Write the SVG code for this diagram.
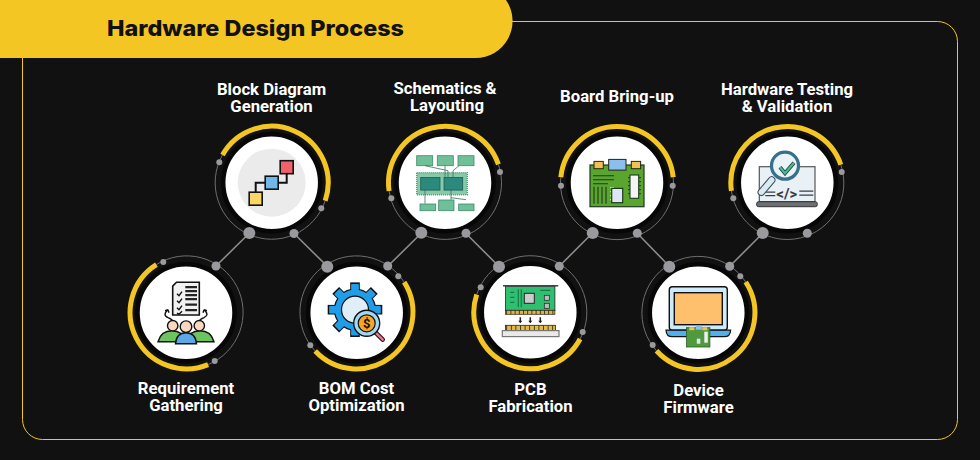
<svg xmlns="http://www.w3.org/2000/svg" width="980" height="460" viewBox="0 0 980 460">
<style>
.lbl{font-family:Roboto,"Liberation Sans",sans-serif;font-weight:700;font-size:16.7px;fill:#fff;text-anchor:middle}
.ttl{font-family:Inter,"Liberation Sans",sans-serif;font-weight:800;font-size:22px;fill:#111}
.y{fill:none;stroke:#f4c623;stroke-width:5}
.t{fill:none;stroke:#6f6f6f;stroke-width:1}
.w{fill:#fff;stroke:#070707;stroke-width:4.500}
.d{fill:#9a9a9e}
.c{stroke:#8c8c8c;stroke-width:1.6;fill:none}
.k{stroke:#111;stroke-width:1.4}
.kl{stroke:#111;stroke-width:1.4;fill:none}
.g{fill:#6fbf98;stroke:#3d8a6c;stroke-width:.8}
.gl{stroke:#3a6e60;stroke-width:.8;fill:none}
</style>
<defs>
<g id="tooth"><rect x="-4" y="-26.500" width="8" height="53"/><rect x="-4" y="-26.500" width="8" height="53" transform="rotate(45)"/><rect x="-4" y="-26.500" width="8" height="53" transform="rotate(90)"/><rect x="-4" y="-26.500" width="8" height="53" transform="rotate(135)"/></g>
</defs>
<rect width="980" height="460" fill="#111"/>
<rect x="22.500" y="21.500" width="935" height="418" rx="20" fill="none" stroke="#f4c623" stroke-width="1"/>
<path d="M0 0H506A37 37 0 0 1 475 58H0Z" fill="#f4c623"/>
<text class="ttl" x="107" y="35.500" textLength="297" lengthAdjust="spacingAndGlyphs">Hardware Design Process</text>

<g id="connectors">
<path class="c" d="M216 266L249.500 233M294 233.500L327.500 266.500M388 266L421.500 233M466 233.500L499 266.500M559.500 266L592.500 233M637.500 233.500L669.500 266.500M730 266L763 233"/>
</g>

<g id="node-requirement">
<circle class="w" cx="186" cy="312.700" r="48.500"/>
<path class="t" d="M156.400 264.600A56.500 56.500 0 1 1 208.100 364.600"/>
<path class="y" d="M156.400 264.600A56.500 56.500 0 0 0 208.100 364.600"/>
<circle class="d" cx="216" cy="266" r="4.500"/><circle class="d" cx="163.300" cy="262" r="3"/><circle class="d" cx="214.700" cy="361" r="3"/>
<g transform="translate(186 312.700)">
<path d="M-9.500-30.400H13.300V2.300H-13.300V-26.500Z" fill="#f2f2f2" stroke="#111" stroke-width="1.600"/>
<path d="M-.7-25.500H11M-.7-21.500H11M-.7-17.500H11M-.7-13.500H11M-.7-8H11M-.7-2.500H11" stroke="#222" stroke-width="2.200" fill="none"/>
<path class="kl" d="M-9-19l2 2 3-4M-9-12l2 2 3-4M-9-5l2 2 3-4M-9 .5l2 1 3-3"/>
<path class="kl" d="M-16 12Q-10 8-18 5Q-24 2-18-3M-18-3l-3 1M-18-3l1 3M16 12Q10 8 18 5Q24 2 18-3M18-3l3 1M18-3l-1 3"/>
<path d="M-28 29Q-25 18-14 18Q-3 18 0 29Z" fill="#6cc45f" class="k"/>
<path d="M28 29Q25 18 14 18Q3 18 0 29Z" fill="#6cc45f" class="k"/>
<circle cx="-13.300" cy="13" r="5.200" fill="#fcd7c0" class="k"/><circle cx="13.300" cy="13" r="5.200" fill="#fcd7c0" class="k"/>
<path d="M-10.500 31Q-9.500 20 0 20Q9.500 20 10.500 31Z" fill="#5aa9e6" class="k"/>
<circle cx="0" cy="14" r="5.800" fill="#fcd7c0" class="k"/>
</g>
</g>

<g id="node-block-diagram">
<circle class="w" cx="271.700" cy="182.700" r="48.500"/>
<path class="t" d="M325.200 200.800A56.500 56.500 0 1 1 222.500 154.900"/>
<path class="y" d="M222.500 154.900A56.500 56.500 0 0 1 325.200 200.800"/>
<circle class="d" cx="249.300" cy="233" r="6"/><circle class="d" cx="294" cy="233.500" r="4.500"/><circle class="d" cx="219.300" cy="162.300" r="3"/><circle class="d" cx="321.300" cy="208.300" r="3"/>
<g transform="translate(271.700 182.700)">
<circle r="34" fill="#ebebeb"/>
<path d="M-16 16V0H0M0 0H15V-15" fill="none" stroke="#111" stroke-width="2"/>
<rect x="8.500" y="-22" width="13" height="13" fill="#f0616d" stroke="#111" stroke-width="1.600"/>
<rect x="-6.500" y="-6.500" width="13" height="13" fill="#6fb9e8" stroke="#111" stroke-width="1.600"/>
<rect x="-22.500" y="9.500" width="13" height="13" fill="#fbd566" stroke="#111" stroke-width="1.600"/>
</g>
</g>

<g id="node-bom">
<circle class="w" cx="356.700" cy="312.700" r="48.500"/>
<path class="t" d="M315.200 351A56.500 56.500 0 1 1 404.200 282.200"/>
<path class="y" d="M404.200 282.200A56.500 56.500 0 0 1 315.200 351"/>
<circle class="d" cx="327.300" cy="266.700" r="6"/><circle class="d" cx="387.700" cy="266" r="4.500"/><circle class="d" cx="398.300" cy="276.300" r="3"/><circle class="d" cx="310.300" cy="345.300" r="3"/>
<g transform="translate(356.700 312.700)">
<g transform="translate(-1.700 -3)">
<use href="#tooth" fill="#1f9de8" stroke="#111" stroke-width="1.600"/>
<circle r="20.500" fill="#1f9de8" stroke="#111" stroke-width="1.200"/>
<g transform="scale(.96)"><use href="#tooth" fill="#1f9de8"/></g>
<circle r="13.500" fill="#dfeef8" stroke="#111" stroke-width="1.200"/>
</g>
<path d="M19 20L26 27" stroke="#111" stroke-width="4.500" stroke-linecap="round"/>
<path d="M19 20L26 27" stroke="#e5788a" stroke-width="2.500" stroke-linecap="round"/>
<circle cx="10" cy="10.600" r="13" fill="#9fd8f5" stroke="#111" stroke-width="1.400"/>
<circle cx="10" cy="10.600" r="8.500" fill="#f6a623" stroke="#111" stroke-width="1.200"/>
<text x="10" y="15.400" font-family="Roboto,sans-serif" font-weight="700" font-size="13" text-anchor="middle" fill="#111">$</text>
</g>
</g>

<g id="node-schematics">
<circle class="w" cx="445" cy="182.700" r="48.500"/>
<path class="t" d="M498.400 164.400A56.500 56.500 0 1 1 389.100 191"/>
<path class="y" d="M389.100 191A56.500 56.500 0 0 1 498.400 164.400"/>
<circle class="d" cx="421.300" cy="232.700" r="6"/><circle class="d" cx="466" cy="233.300" r="4.500"/><circle class="d" cx="391.300" cy="198.300" r="3"/><circle class="d" cx="500" cy="172" r="3"/>
<g transform="translate(445 182.700)">
<rect x="-28.300" y="-27" width="16" height="10" class="g"/><rect x="-7.700" y="-27" width="16" height="10" class="g"/><rect x="13" y="-27" width="16" height="10" class="g"/>
<rect x="-28.300" y="-10" width="50.600" height="22" fill="#86cba8" stroke="#4f9c7c" stroke-width="1.500" stroke-dasharray="1 1"/>
<rect x="-24.300" y="-5.300" width="19.300" height="12.700" fill="#2b8a7d" stroke="#1d5d55" stroke-width=".8"/>
<rect x="-1" y="-5.300" width="18.700" height="12.700" fill="#2b8a7d" stroke="#1d5d55" stroke-width=".8"/>
<path class="gl" d="M-20-17L3-12V-5M0-17V-5M14-17L8-12V-5M-20 7V21M6 7V17M6 15L21 17"/>
<rect x="-25" y="21.300" width="15.700" height="6.700" class="g"/><rect x="-6.300" y="17.300" width="15.300" height="10.700" class="g"/><rect x="13.700" y="21.300" width="15.300" height="6.700" class="g"/>
</g>
</g>

<g id="node-pcb">
<circle class="w" cx="530.300" cy="312.300" r="48.500"/>
<path class="t" d="M476.700 294.500A56.500 56.500 0 1 1 580.100 339"/>
<path class="y" d="M476.700 294.500A56.500 56.500 0 0 0 580.100 339"/>
<circle class="d" cx="499" cy="266.700" r="6"/><circle class="d" cx="559.300" cy="266.300" r="4.500"/><circle class="d" cx="480.700" cy="287.300" r="3"/><circle class="d" cx="582.700" cy="332" r="3"/>
<g transform="translate(530.300 312.300)">
<rect x="-24.700" y="-26" width="49.300" height="24" fill="#2fbf71" stroke="#222" stroke-width=".8"/>
<path d="M-27.300-26.500H28" stroke="#444" stroke-width="1.400"/>
<path d="M-12-23V-5M-9-23V-5M-20-20H-16M-20-15H-16M-20-10H-16M10-22H20" stroke="#1a7a4a" stroke-width="1.200" fill="none"/>
<rect x="-6" y="-19" width="10" height="10" fill="#ccc" stroke="#222" stroke-width="1"/>
<rect x="14" y="-17" width="5" height="5" fill="#bbb" stroke="#222" stroke-width=".7"/><rect x="14" y="-9" width="5" height="5" fill="#bbb" stroke="#222" stroke-width=".7"/>
<rect x="-24.700" y="-2" width="49.300" height="4" fill="#e3b23c" stroke="#222" stroke-width=".7"/>
<path d="M-24 0H24" stroke="#222" stroke-width="4" stroke-dasharray=".8 3.400"/>
<path d="M-10 5V10M0 5V10M10 5V10" stroke="#222" stroke-width="1.500"/>
<path d="M-12 8.500L-10 11L-8 8.500ZM-2 8.500L0 11L2 8.500ZM8 8.500L10 11L12 8.500Z" fill="#222"/>
<rect x="-24.700" y="13" width="50" height="5.300" fill="#e8b93f" stroke="#222" stroke-width=".8"/>
<path d="M-24 15.700H25" stroke="#222" stroke-width="5" stroke-dasharray=".8 3.800"/>
<rect x="-28" y="18.300" width="56.700" height="6" fill="#e9e9e9" stroke="#777" stroke-width="1.200"/>
</g>
</g>

<g id="node-board">
<circle class="w" cx="617" cy="182.700" r="48.500"/>
<path class="t" d="M673.200 177.300A56.500 56.500 0 1 1 560.800 177.300"/>
<path class="y" d="M560.800 177.300A56.500 56.500 0 0 1 673.200 177.300"/>
<circle class="d" cx="592.700" cy="233" r="6"/><circle class="d" cx="637.300" cy="233.300" r="4.500"/><circle class="d" cx="561" cy="185.700" r="3"/><circle class="d" cx="672.700" cy="185.700" r="3"/>
<g transform="translate(617 182.700)">
<rect x="-27" y="-17.700" width="54" height="41.700" fill="#5aa52e" stroke="#1c3a20" stroke-width="1.200"/>
<rect x="-23" y="-21.300" width="9.300" height="7.300" fill="#f4c050" stroke="#222" stroke-width="1"/>
<rect x="-8.300" y="-23.300" width="17.300" height="10.700" fill="#8cc0ec" stroke="#222" stroke-width="1"/>
<rect x="14.300" y="-21.300" width="9.300" height="7.300" fill="#f4c050" stroke="#222" stroke-width="1"/>
<path d="M-24-7H-3M-24-3H-3M-24 1H-9M-23 4V21M-19 4V21M-15 4V21M-11 4V21" stroke="#1c3a20" stroke-width="1.100" fill="none"/>
<path d="M-7 5H-3M-7 9H-3M-7 13H-3M-7 17H-3" stroke="#b5e38a" stroke-width="1.300"/>
<rect x="13" y="-7.700" width="8.700" height="23.300" fill="#f4f4f4" stroke="#1c3a20" stroke-width="1.100"/>
<path d="M11-5H13M11-1H13M11 3H13M11 7H13M11 11H13M22-5H24M22-1H24M22 3H24M22 7H24M22 11H24" stroke="#1c3a20" stroke-width="1"/>
<rect x="-5.300" y="5.700" width="11" height="14.300" fill="#dfe6f5" stroke="#1c3a20" stroke-width="1.200"/>
</g>
</g>

<g id="node-device">
<circle class="w" cx="698.300" cy="312.700" r="48.500"/>
<path class="t" d="M656.500 350.800A56.500 56.500 0 1 1 745.700 282"/>
<path class="y" d="M745.700 282A56.500 56.500 0 0 1 656.500 350.800"/>
<circle class="d" cx="669.300" cy="266.700" r="6"/><circle class="d" cx="729.700" cy="266.300" r="4.500"/><circle class="d" cx="740.300" cy="276.300" r="3"/><circle class="d" cx="652.700" cy="345" r="3"/>
<g transform="translate(698.300 312.700)">
<rect x="-29" y="-26" width="58" height="43.500" rx="3" fill="#cfeafa" stroke="#111" stroke-width="1.400"/>
<rect x="-24" y="-20" width="48" height="32" fill="#ffc06e" stroke="#111" stroke-width="1.400"/>
<path d="M-32.300 17.500H32.300Q32 24 26 24H-26Q-32 24-32.300 17.500Z" fill="#4fb0ec" stroke="#111" stroke-width="1.200"/>
<rect x="-11.700" y="15" width="23.300" height="19.300" fill="#4e9a3d" stroke="#2c5a26" stroke-width=".8"/>
<rect x="6" y="19" width="3.500" height="11" fill="#eee"/><rect x="-9" y="14.500" width="5" height="3" fill="#f4c050"/><rect x="4" y="14.500" width="5" height="3" fill="#f4c050"/><rect x="-2.500" y="13" width="6" height="4" fill="#8cc0ec"/><rect x="-1.500" y="26" width="3.500" height="5" fill="#dfe6f5"/>
</g>
</g>

<g id="node-testing">
<circle class="w" cx="787.300" cy="182.700" r="48.500"/>
<path class="t" d="M840.800 164.700A56.500 56.500 0 1 1 731.400 190.900"/>
<path class="y" d="M731.400 190.900A56.500 56.500 0 0 1 840.800 164.700"/>
<circle class="d" cx="762.700" cy="233" r="6"/><circle class="d" cx="807.300" cy="233.300" r="4.500"/><circle class="d" cx="733.300" cy="198.300" r="3"/><circle class="d" cx="841.700" cy="172" r="3"/>
<g transform="translate(787.300 182.700)">
<rect x="-28" y="-16" width="55.700" height="35" fill="#eaf1f6" stroke="#555" stroke-width="1.200"/>
<rect x="-30.700" y="19" width="60.700" height="5" rx="2" fill="#6c6f73" stroke="#333" stroke-width="1"/>
<path d="M-22 9.500H-12M-22 13H-12M12 8.500H26M12 12.500H26" stroke="#33404a" stroke-width="1.300"/>
<text x="-.5" y="16" font-family="Roboto,sans-serif" font-weight="700" font-size="15" text-anchor="middle" fill="#33404a">&lt;/&gt;</text>
<path d="M-15.600-2.700L-26 9.500" stroke="#37505e" stroke-width="7.500" stroke-linecap="round"/>
<path d="M-15.600-2.700L-26 9.500" stroke="#dde9f2" stroke-width="5.500" stroke-linecap="round"/>
<circle cx="-2.300" cy="-17" r="13.500" fill="#eaf3f9" stroke="#37708a" stroke-width="3.200"/>
<path d="M-7.300-15.400L-2.300-9.400L6.700-20" fill="none" stroke="#2b3a40" stroke-width="3.800"/>
<path d="M-7.300-15.400L-2.300-9.400L6.700-20" fill="none" stroke="#3fbf8f" stroke-width="2.200"/>
</g>
</g>

<g id="labels">
<text class="lbl" x="271.500" y="95">Block Diagram</text><text class="lbl" x="271.500" y="112">Generation</text>
<text class="lbl" x="445" y="94">Schematics &amp;</text><text class="lbl" x="447" y="111">Layouting</text>
<text class="lbl" x="617" y="102">Board Bring-up</text>
<text class="lbl" x="787" y="95">Hardware Testing</text><text class="lbl" x="787" y="112">&amp; Validation</text>
<text class="lbl" x="186" y="394">Requirement</text><text class="lbl" x="186" y="411">Gathering</text>
<text class="lbl" x="356.500" y="394">BOM Cost</text><text class="lbl" x="356.500" y="411">Optimization</text>
<text class="lbl" x="530.500" y="395">PCB</text><text class="lbl" x="530.500" y="412">Fabrication</text>
<text class="lbl" x="698.500" y="396">Device</text><text class="lbl" x="698.500" y="413">Firmware</text>
</g>
</svg>
